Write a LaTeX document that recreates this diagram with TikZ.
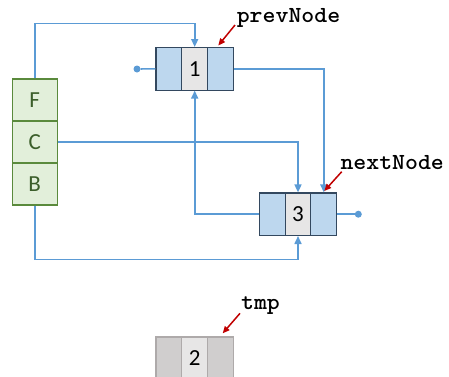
\documentclass[tikz,border=0pt]{standalone}
\usepackage{fontspec}
\setmainfont{Carlito}
\newfontfamily\codefont[FakeStretch=1.07]{Latin Modern Mono Light}
\usetikzlibrary{arrows.meta}
\definecolor{cellblue}{HTML}{BDD7EE}
\definecolor{cellgrey}{HTML}{E7E6E6}
\definecolor{celledge}{HTML}{33485F}
\definecolor{linkblue}{HTML}{5B9BD5}
\definecolor{stackfill}{HTML}{E2EFDA}
\definecolor{stackedge}{HTML}{5A8A3C}
\definecolor{stacktext}{HTML}{3B5E2A}
\definecolor{tmpfill}{HTML}{D0CECE}
\definecolor{tmpedge}{HTML}{AEAAAA}
\definecolor{pointred}{HTML}{C00000}
\tikzset{
  cell/.style={draw=celledge, line width=1.1pt, minimum width=25.8pt, minimum height=42.5pt,
    inner sep=0pt, font=\fontsize{23}{23}\selectfont},
  sidecell/.style={cell, fill=cellblue},
  datacell/.style={cell, fill=cellgrey},
  tmpside/.style={cell, draw=tmpedge, fill=tmpfill},
  tmpdata/.style={cell, draw=tmpedge, fill=cellgrey},
  stackcell/.style={draw=stackedge, line width=1.1pt, fill=stackfill, text=stacktext,
    minimum width=45.3pt, minimum height=42pt, inner sep=0pt, font=\fontsize{23}{23}\selectfont},
  link/.style={draw=linkblue, line width=1.6pt},
  linkarrow/.style={link, -{Triangle[length=8pt,width=7pt]}},
  endpoint/.style={circle, fill=linkblue, minimum size=7pt, inner sep=0pt},
  tag/.style={font=\codefont\bfseries\fontsize{23}{23}\selectfont, inner sep=0pt},
  tagarrow/.style={draw=pointred, line width=1.5pt, -{Triangle[length=7pt,width=6pt]}}
}
\begin{document}
\begin{tikzpicture}[x=1pt, y=-1pt]
\useasboundingbox (0,0) rectangle (449,376);

% node 1
\node[sidecell] (n1a) at (168.9,68.8) {};
\node[datacell] (n1b) at (194.7,68.8) {1};
\node[sidecell] (n1c) at (220.5,68.8) {};

% node 3
\node[sidecell] (n3a) at (272.2,214.2) {};
\node[datacell] (n3b) at (298.0,214.2) {3};
\node[sidecell] (n3c) at (323.8,214.2) {};

% node 2 (tmp)
\node[tmpside] (n2a) at (168.9,358.2) {};
\node[tmpdata] (n2b) at (194.7,358.2) {2};
\node[tmpside] (n2c) at (220.5,358.2) {};

% stack of F, C, B
\node[stackcell] (F) at (34.7,100.0) {F};
\node[stackcell] (C) at (34.7,142.0) {C};
\node[stackcell] (B) at (34.7,184.0) {B};

% open ends
\node[endpoint] (end1) at (137,69) {};
\node[endpoint] (end3) at (358.3,214.2) {};
\draw[link] (end1) -- (n1a.west);
\draw[link] (n3c.east) -- (end3);

% links
\draw[linkarrow] (F.north) -- ++(0,-55) -| (n1b.north);
\draw[linkarrow] (C.east) -| (n3b.north);
\draw[linkarrow] (n1c.east) -| (n3c.north);
\draw[linkarrow] (n3a.west) -| (n1b.south);
\draw[linkarrow] (B.south) -- ++(0,54) -| (n3b.south);

% pointer labels
\node[tag] (prev) at (288.5,18.3) {prevNode};
\node[tag] (next) at (392.2,162.5) {nextNode};
\node[tag] (tmp) at (260.5,305.5) {tmp};
\coordinate (prevtail) at (235,25);
\coordinate (prevhead) at (218.3,45.5);
\coordinate (nexttail) at (341.7,171.7);
\coordinate (nexthead) at (324.3,191);
\coordinate (tmptail) at (240,313.3);
\coordinate (tmphead) at (222.7,333.3);
\draw[tagarrow] (prevtail) -- (prevhead);
\draw[tagarrow] (nexttail) -- (nexthead);
\draw[tagarrow] (tmptail) -- (tmphead);
\end{tikzpicture}
\end{document}
